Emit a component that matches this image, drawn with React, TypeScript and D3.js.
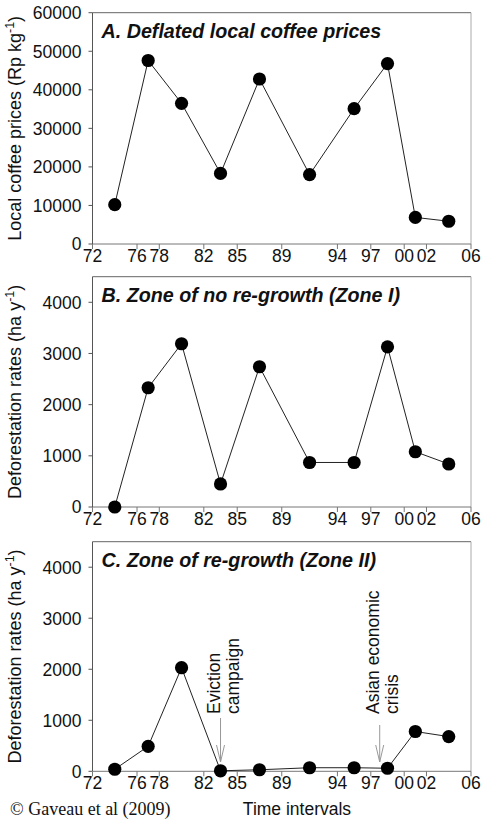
import React from "react";
import * as d3 from "d3";

// Interval midpoints (years) for each observation
const intervalMid = [1974, 1977, 1980, 1983.5, 1987, 1991.5, 1995.5, 1998.5, 2001, 2004];
// Deflated local coffee prices (Rp/kg)
const coffeePrices = [10200, 47600, 36500, 18300, 42800, 18000, 35100, 46800, 6900, 5900];
// Deforestation rates, zone without re-growth (ha/yr)
const zoneIRates = [0, 2330, 3190, 450, 2740, 870, 870, 3130, 1080, 840];
// Deforestation rates, zone with re-growth (ha/yr)
const zoneIIRates = [40, 490, 2030, 10, 30, 70, 70, 60, 780, 680];
// Interval boundaries used as x ticks
const tickYears = [1972, 1976, 1978, 1982, 1985, 1989, 1994, 1997, 2000, 2002, 2006];
const priceTicks = [0, 10000, 20000, 30000, 40000, 50000, 60000];
const rateTicks = [0, 1000, 2000, 3000, 4000];
// Event markers in panel C
const eventYears = [1983.5, 1997.8];
const eventLines = [["Eviction", "campaign"], ["Asian economic", "crisis"]];

const FONT = "'Liberation Sans', Arial, sans-serif";
const LEFT = 92.5;
const RIGHT = 471;

type PanelProps = {
  top: number;
  bottom: number;
  yMax: number;
  yTicks: number[];
  values: number[];
  title: string;
  yLabel: string;
  yUnit: string;
  children?: (x: d3.ScaleLinear<number, number>, y: d3.ScaleLinear<number, number>) => React.ReactNode;
};

function Panel({ top, bottom, yMax, yTicks, values, title, yLabel, yUnit, children }: PanelProps) {
  const x = d3.scaleLinear().domain([1972, 2006]).range([LEFT, RIGHT]);
  const y = d3.scaleLinear().domain([0, yMax]).range([bottom, top]);
  const pts = intervalMid.map((yr, i) => [yr, values[i]] as [number, number]);
  const line = d3
    .line<[number, number]>()
    .x((d) => x(d[0]))
    .y((d) => y(d[1]));
  const mid = (top + bottom) / 2;
  return (
    <g>
      {/* frame */}
      <line x1={LEFT} x2={RIGHT} y1={top} y2={top} stroke="#666" strokeWidth={1} />
      <line x1={RIGHT} x2={RIGHT} y1={top} y2={bottom} stroke="#aaa" strokeWidth={1} />
      <line x1={LEFT} x2={RIGHT} y1={bottom} y2={bottom} stroke="#777" strokeWidth={1} />
      <line x1={LEFT} x2={LEFT} y1={top} y2={bottom} stroke="#555" strokeWidth={1} />
      {/* y axis */}
      {yTicks.map((t) => (
        <g key={t}>
          <line x1={LEFT - 4} x2={LEFT} y1={y(t)} y2={y(t)} stroke="#555" />
          <text
            x={LEFT - 11}
            y={y(t)}
            dy="0.36em"
            textAnchor="end"
            fontSize={17.5}
            fill="#111"
          >
            {t}
          </text>
        </g>
      ))}
      {/* x axis */}
      {tickYears.map((t) => (
        <g key={t}>
          <line x1={x(t)} x2={x(t)} y1={bottom} y2={bottom + 5} stroke="#777" />
          <text x={x(t)} y={bottom + 18} textAnchor="middle" fontSize={17.5} fill="#111">
            {String(t % 100).padStart(2, "0")}
          </text>
        </g>
      ))}
      {/* y axis title */}
      <text
        transform={`translate(21,${mid}) rotate(-90)`}
        textAnchor="middle"
        fontSize={18}
        fill="#111"
      >
        {yLabel} ({yUnit}
        <tspan fontSize={12.5} dy={-7}>
          -1
        </tspan>
        <tspan dy={7}>)</tspan>
      </text>
      {/* panel title */}
      <text
        x={LEFT + 9}
        y={top + 25}
        fontSize={19.7}
        fontWeight="bold"
        fontStyle="italic"
        fill="#111"
      >
        {title}
      </text>
      {children && children(x, y)}
      {/* series */}
      <path d={line(pts) || ""} fill="none" stroke="#222" strokeWidth={1} />
      {pts.map((p, i) => (
        <circle key={i} cx={x(p[0])} cy={y(p[1])} r={6.6} fill="#000" />
      ))}
    </g>
  );
}

export default function App() {
  return (
    <svg
      width={484}
      height={820}
      style={{ position: "absolute", left: 0, top: 0, background: "#fff" }}
      fontFamily={FONT}
    >
      <rect width={484} height={820} fill="#fff" />
      <Panel
        top={12.7}
        bottom={244}
        yMax={60000}
        yTicks={priceTicks}
        values={coffeePrices}
        title="A. Deflated local coffee prices"
        yLabel="Local coffee prices"
        yUnit="Rp kg"
      />
      <Panel
        top={276.7}
        bottom={507}
        yMax={4500}
        yTicks={rateTicks}
        values={zoneIRates}
        title="B. Zone of no re-growth (Zone I)"
        yLabel="Deforestation rates"
        yUnit="ha y"
      />
      <Panel
        top={541.7}
        bottom={771.3}
        yMax={4500}
        yTicks={rateTicks}
        values={zoneIIRates}
        title="C. Zone of re-growth (Zone II)"
        yLabel="Deforestation rates"
        yUnit="ha y"
      >
        {(x) =>
          eventYears.map((yr, i) => {
            const ax = x(yr);
            const tipY = 762;
            const topY = i === 0 ? 718 : 725;
            const textY = 714;
            return (
              <g key={yr}>
                <line x1={ax} x2={ax} y1={topY} y2={tipY} stroke="#999" strokeWidth={1} />
                <path
                  d={`M${ax - 4},${tipY - 17}L${ax},${tipY}L${ax + 4},${tipY - 17}`}
                  fill="none"
                  stroke="#999"
                  strokeWidth={1}
                />
                {eventLines[i].map((s, j) => (
                  <text
                    key={j}
                    transform={`translate(${ax - 0.5 + (j - 0.5) * 19 + 9.5},${textY}) rotate(-90)`}
                    fontSize={17.5}
                    fill="#111"
                  >
                    {s}
                  </text>
                ))}
              </g>
            );
          })
        }
      </Panel>
      <text x={10} y={815} fontFamily="'Liberation Serif', 'Times New Roman', serif" fontSize={18} fill="#111">
        © Gaveau et al (2009)
      </text>
      <text x={297} y={815} textAnchor="middle" fontSize={17.5} fill="#111">
        Time intervals
      </text>
    </svg>
  );
}
